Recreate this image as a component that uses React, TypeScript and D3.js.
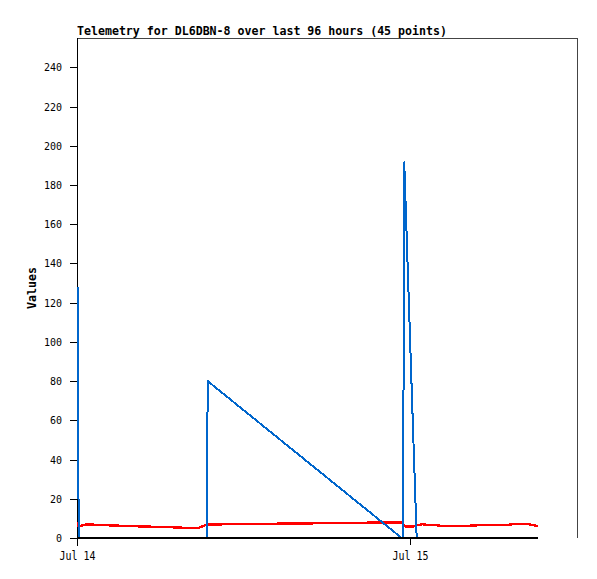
import React from "react";
import * as d3 from "d3";

const title = "Telemetry for DL6DBN-8 over last 96 hours (45 points)";
const yLabel = "Values";
const startTime = "2024-07-14T00:00:00Z";
const endTime = "2024-07-15T12:02:00Z";

// hours after Jul 14 00:00
const hours = [
  0.05, 0.12, 0.6, 1.2, 1.7, 2.2, 2.7, 3.2, 3.7, 4.2, 4.7, 5.2, 5.7, 6.2, 6.7,
  7.2, 7.7, 8.2, 8.7, 9.35, 9.42,
  23.4, 23.5, 23.58, 23.8, 24.0, 24.2, 24.48, 24.9, 25.4, 25.9, 26.4, 26.9,
  27.4, 27.9, 28.4, 28.9, 29.4, 29.9, 30.4, 30.9, 31.4, 31.9, 32.6, 33.2,
];

const blueValues = [
  128, 0, 0, 0, 0, 0, 0, 0, 0, 0, 0, 0, 0, 0, 0,
  0, 0, 0, 0, 0, 80,
  0, 0, 192, 145, 102, 59, 0, 0, 0, 0, 0, 0,
  0, 0, 0, 0, 0, 0, 0, 0, 0, 0, 0, 0,
];

const redValues = [
  8.2, 6.0, 6.8, 6.8, 6.5, 6.5, 6.4, 6.2, 6.0, 6.0, 5.9, 5.8, 5.6, 5.5, 5.5,
  5.4, 5.2, 5.0, 5.0, 6.8, 6.9,
  8.0, 7.5, 6.0, 5.8, 5.8, 5.8, 6.5, 7.0, 6.6, 6.5, 6.1, 6.0,
  6.0, 6.0, 6.3, 6.5, 6.5, 6.5, 6.5, 6.6, 7.0, 7.0, 7.0, 6.0,
];

const blackValues = [
  0, 0, 0, 0, 0, 0, 0, 0, 0, 0, 0, 0, 0, 0, 0,
  0, 0, 0, 0, 0, 0,
  0, 0, 0, 0, 0, 0, 0, 0, 0, 0, 0, 0,
  0, 0, 0, 0, 0, 0, 0, 0, 0, 0, 0, 0,
];

const yTicks = [0, 20, 40, 60, 80, 100, 120, 140, 160, 180, 200, 220, 240];
const xTicks = ["2024-07-14T00:00:00Z", "2024-07-15T00:00:00Z"];

const W = 597;
const H = 579;
const left = 77;
const right = 577;
const top = 38;
const bottom = 538;
const FONT = "'DejaVu Sans Mono', monospace";

export default function App() {
  const t0 = new Date(startTime).getTime();
  const x = d3
    .scaleUtc()
    .domain([new Date(startTime), new Date(endTime)])
    .range([left, right]);
  const y = d3.scaleLinear().domain([0, 255]).range([bottom, top]);
  const times = hours.map((h) => new Date(t0 + h * 3600 * 1000));
  const fmt = d3.utcFormat("%b %d");

  const line = (vals: number[]) =>
    d3
      .line<number>()
      .x((_, i) => x(times[i]))
      .y((v) => y(v))(vals) || "";

  return (
    <svg
      width={W}
      height={H}
      style={{ position: "absolute", left: 0, top: 0, background: "#fff" }}
    >
      <rect x={0} y={0} width={W} height={H} fill="#fff" />
      {/* frame */}
      <line x1={left} y1={top + 0.5} x2={right + 0.5} y2={top + 0.5} stroke="#444" />
      <line x1={right + 0.5} y1={top} x2={right + 0.5} y2={bottom} stroke="#444" />
      <line x1={left + 0.5} y1={top} x2={left + 0.5} y2={bottom + 8} stroke="#000" />
      {/* y ticks */}
      {yTicks.map((t) => (
        <g key={t}>
          <line x1={left - 7} x2={left} y1={Math.round(y(t)) + 0.5} y2={Math.round(y(t)) + 0.5} stroke="#000" />
          <text
            x={left - 15}
            y={y(t) + 4}
            textAnchor="end"
            fontFamily={FONT}
            fontSize={10}
            fill="#000"
          >
            {t}
          </text>
        </g>
      ))}
      {/* x ticks */}
      {xTicks.map((d) => {
        const xp = Math.round(x(new Date(d))) + 0.5;
        return (
          <g key={d}>
            <line x1={xp} x2={xp} y1={bottom} y2={bottom + 7} stroke="#000" />
            <text
              x={xp}
              y={bottom + 22}
              textAnchor="middle"
              fontFamily={FONT}
              fontSize={12.5}
              textLength={36}
              lengthAdjust="spacingAndGlyphs"
              fill="#000"
            >
              {fmt(new Date(d))}
            </text>
          </g>
        );
      })}
      {/* series */}
      <path d={line(redValues)} fill="none" stroke="#ff0000" strokeWidth={2.4} shapeRendering="crispEdges" />
      <path d={line(blueValues)} fill="none" stroke="#0066cc" strokeWidth={2} shapeRendering="crispEdges" />
      <path d={line(blackValues)} fill="none" stroke="#000" strokeWidth={2.5} shapeRendering="crispEdges" />
      {/* title */}
      <text
        x={left}
        y={35}
        fontFamily={FONT}
        fontSize={11.6}
        fontWeight="bold"
        fill="#000"
      >
        {title}
      </text>
      <text
        transform={`translate(36, ${(top + bottom) / 2}) rotate(-90)`}
        textAnchor="middle"
        fontFamily={FONT}
        fontSize={11.6}
        fontWeight="bold"
        fill="#000"
      >
        {yLabel}
      </text>
    </svg>
  );
}
